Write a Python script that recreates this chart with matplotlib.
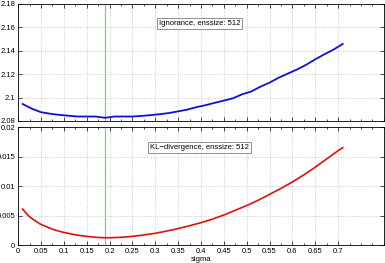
import numpy as np
import matplotlib.pyplot as plt
from matplotlib.ticker import MultipleLocator

plt.rcParams['font.family'] = ['Liberation Sans', 'DejaVu Sans']
plt.rcParams['font.size'] = 6

# Ignorance score vs sigma (ensemble size 512)
sig_ign = [0.01, 0.03, 0.05, 0.07, 0.09, 0.11, 0.13, 0.15, 0.17, 0.19,
           0.21, 0.23, 0.25, 0.27, 0.29, 0.31, 0.33, 0.35, 0.37, 0.39,
           0.41, 0.43, 0.45, 0.47, 0.49, 0.51, 0.53, 0.55, 0.57, 0.59,
           0.61, 0.63, 0.65, 0.67, 0.69, 0.71]
ign = [2.0945, 2.0905, 2.0875, 2.0862, 2.0852, 2.0845, 2.0838, 2.0838, 2.0838, 2.0827,
       2.0838, 2.0838, 2.0838, 2.0843, 2.0850, 2.0858, 2.0868, 2.0882, 2.0897, 2.0918,
       2.0935, 2.0955, 2.0974, 2.0994, 2.1028, 2.1052, 2.1093, 2.1128, 2.1170, 2.1205,
       2.1240, 2.1280, 2.1327, 2.1370, 2.1410, 2.1458]

# KL divergence vs sigma
sig_kl = [0.01, 0.0175, 0.025, 0.0375, 0.05, 0.0625, 0.075, 0.0875, 0.1, 0.125,
          0.15, 0.175, 0.19, 0.2, 0.225, 0.25, 0.275, 0.3, 0.325, 0.35,
          0.375, 0.4, 0.425, 0.45, 0.475, 0.5, 0.525, 0.55, 0.575, 0.6,
          0.625, 0.65, 0.675, 0.7, 0.71]
kl = [0.0061, 0.0054, 0.0048, 0.0041, 0.0035, 0.0031, 0.0027, 0.0024, 0.00215, 0.00175,
      0.00148, 0.00130, 0.00124, 0.00125, 0.00132, 0.00148, 0.00172, 0.0020, 0.00238, 0.0028,
      0.00328, 0.0038, 0.0044, 0.0051, 0.0059, 0.0067, 0.0076, 0.0086, 0.0096, 0.0107,
      0.0119, 0.0132, 0.0146, 0.0160, 0.0165]

sigma_best = 0.19
xticks = np.arange(0, 0.71, 0.05)
xticklabels = ['0', '0.05', '0.1', '0.15', '0.2', '0.25', '0.3', '0.35', '0.4',
               '0.45', '0.5', '0.55', '0.6', '0.65', '0.7']

fig = plt.figure(figsize=(3.85, 2.63), dpi=100)
ax1 = fig.add_axes([0.047, 0.540, 0.950, 0.445])
ax2 = fig.add_axes([0.047, 0.068, 0.950, 0.449])

ax1.plot(sig_ign, ign, color='#1010d0', lw=1.3)
ax2.plot(sig_kl, kl, color='#e01010', lw=1.2)

for ax in (ax1, ax2):
    ax.axvline(sigma_best, color='#66dd66', lw=0.9, zorder=1.5)
    ax.set_xlim(0, 0.8)
    ax.set_xticks(xticks)
    ax.xaxis.set_minor_locator(MultipleLocator(0.025))
    ax.grid(True, which='major', linestyle=':', color='#c0c0c0', lw=0.6)
    ax.tick_params(which='both', direction='in', top=True, right=True,
                   labelsize=5.5, pad=2, width=0.5)
    ax.tick_params(which='major', length=3)
    ax.tick_params(which='minor', length=1.5)
    for s in ax.spines.values():
        s.set_linewidth(0.6)

ax1.set_ylim(2.08, 2.18)
ax1.set_yticks([2.08, 2.1, 2.12, 2.14, 2.16, 2.18])
ax1.set_yticklabels(['2.08', '2.1', '2.12', '2.14', '2.16', '2.18'])
ax1.set_xticklabels([])

ax2.set_ylim(0, 0.02)
ax2.set_yticks([0, 0.005, 0.01, 0.015, 0.02])
ax2.set_yticklabels(['0', '0.005', '0.01', '0.015', '0.02'])
ax2.set_xticklabels(xticklabels)
ax2.set_xlabel('sigma', fontsize=5.5, labelpad=1)

box = dict(boxstyle='square,pad=0.25', facecolor='white', edgecolor='#808080', lw=0.6)
ax1.text(0.397, 2.1633, 'Ignorance, enssize: 512', ha='center', va='center',
         fontsize=5.5, bbox=box)
ax2.text(0.397, 0.01653, 'KL\u2212divergence, enssize: 512', ha='center', va='center',
         fontsize=5.5, bbox=box)

fig.savefig('out.png', dpi=100)
